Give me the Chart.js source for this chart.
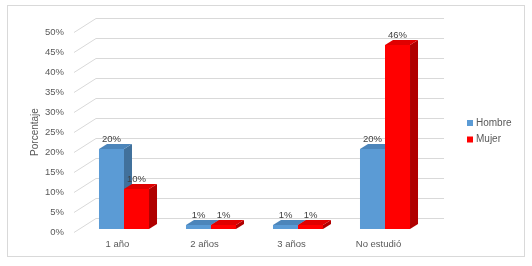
<!DOCTYPE html>
<html>
<head>
<meta charset="utf-8">
<script src="https://cdn.jsdelivr.net/npm/chart.js@4.4.0/dist/chart.umd.min.js"></script>
<style>
  html, body { margin: 0; padding: 0; background: #fff; }
  canvas { display: block; }
</style>
</head>
<body>
<canvas id="chart" width="532" height="266"></canvas>
<script>
const categories = ['1 año', '2 años', '3 años', 'No estudió'];
const hombre = [20, 1, 1, 20];
const mujer = [10, 1, 1, 46];
const yTicks = [0, 5, 10, 15, 20, 25, 30, 35, 40, 45, 50];

const seriesColors = {
  Hombre: { front: '#5B9BD5', top: '#4C85BA', side: '#41719C' },
  Mujer: { front: '#FF0000', top: '#E00000', side: '#B00000' }
};

// wall depth and bar depth (px)
const WALL_DX = 22, WALL_DY = -14;
const BAR_DX = 8, BAR_DY = -5;
const BAR_SHIFT_X = 6.5, BAR_SHIFT_Y = -3;
const FONT = '"Liberation Sans", Arial, sans-serif';

const fakeBars = {
  id: 'fakeBars',
  beforeDatasetsDraw(chart) {
    const ctx = chart.ctx;
    const area = chart.chartArea;
    const y = chart.scales.y;

    // border
    ctx.save();
    ctx.strokeStyle = '#D9D9D9';
    ctx.lineWidth = 1;
    ctx.strokeRect(7.5, 5.5, 517, 251);

    // side wall + back wall gridlines
    yTicks.forEach(v => {
      const py = Math.round(y.getPixelForValue(v)) + 0.5;
      ctx.beginPath();
      ctx.moveTo(area.left, py);
      ctx.lineTo(area.left + WALL_DX, py + WALL_DY);
      ctx.lineTo(area.right + WALL_DX, py + WALL_DY);
      ctx.stroke();
    });
    ctx.restore();

    // bars, category by category
    const metas = [chart.getDatasetMeta(0), chart.getDatasetMeta(1)];
    for (let i = 0; i < categories.length; i++) {
      metas.forEach((meta, di) => {
        const bar = meta.data[i];
        const c = seriesColors[chart.data.datasets[di].label];
        const x0 = bar.x - bar.width / 2 + BAR_SHIFT_X;
        const x1 = bar.x + bar.width / 2 + BAR_SHIFT_X;
        const top = bar.y + BAR_SHIFT_Y;
        const base = bar.base + BAR_SHIFT_Y;

        ctx.save();
        // side
        ctx.fillStyle = c.side;
        ctx.beginPath();
        ctx.moveTo(x1, base);
        ctx.lineTo(x1 + BAR_DX, base + BAR_DY);
        ctx.lineTo(x1 + BAR_DX, top + BAR_DY);
        ctx.lineTo(x1, top);
        ctx.closePath();
        ctx.fill();
        // top
        ctx.fillStyle = c.top;
        ctx.beginPath();
        ctx.moveTo(x0, top);
        ctx.lineTo(x0 + BAR_DX, top + BAR_DY);
        ctx.lineTo(x1 + BAR_DX, top + BAR_DY);
        ctx.lineTo(x1, top);
        ctx.closePath();
        ctx.fill();
        // front
        ctx.fillStyle = c.front;
        ctx.fillRect(x0, top, x1 - x0, base - top);
        ctx.restore();
      });
    }
    return false;
  },
  afterDraw(chart) {
    const ctx = chart.ctx;
    const y = chart.scales.y;
    const x = chart.scales.x;
    ctx.save();

    // y tick labels
    ctx.fillStyle = '#595959';
    ctx.font = '9.5px ' + FONT;
    ctx.textAlign = 'right';
    ctx.textBaseline = 'middle';
    yTicks.forEach(v => {
      ctx.fillText(v + '%', 64, y.getPixelForValue(v));
    });

    // category labels
    ctx.textAlign = 'center';
    categories.forEach((cat, i) => {
      ctx.fillText(cat, x.getPixelForValue(i), 244);
    });

    // axis title
    ctx.save();
    ctx.translate(35, (chart.chartArea.top + chart.chartArea.bottom) / 2);
    ctx.rotate(-Math.PI / 2);
    ctx.font = '10px ' + FONT;
    ctx.fillText('Porcentaje', 0, 0);
    ctx.restore();

    // data labels
    ctx.fillStyle = '#404040';
    ctx.font = '9.5px ' + FONT;
    chart.data.datasets.forEach((ds, di) => {
      chart.getDatasetMeta(di).data.forEach((bar, i) => {
        ctx.fillText(ds.data[i] + '%', bar.x + BAR_SHIFT_X, bar.y + BAR_SHIFT_Y - 10);
      });
    });

    // legend
    ctx.textAlign = 'left';
    ctx.font = '10px ' + FONT;
    ctx.fillStyle = '#595959';
    chart.data.datasets.forEach((ds, di) => {
      const ly = 123 + di * 16.5;
      ctx.fillStyle = seriesColors[ds.label].front;
      ctx.fillRect(467, ly - 3, 6, 6);
      ctx.fillStyle = '#595959';
      ctx.fillText(ds.label, 476, ly);
    });
    ctx.restore();
  }
};

new Chart(document.getElementById('chart'), {
  type: 'bar',
  data: {
    labels: categories,
    datasets: [
      { label: 'Hombre', data: hombre, backgroundColor: seriesColors.Hombre.front },
      { label: 'Mujer', data: mujer, backgroundColor: seriesColors.Mujer.front }
    ]
  },
  options: {
    responsive: false,
    animation: false,
    layout: { padding: { left: 74, right: 110, top: 32, bottom: 34 } },
    datasets: { bar: { categoryPercentage: 0.575, barPercentage: 1 } },
    scales: {
      x: { display: false },
      y: { display: false, min: 0, max: 50 }
    },
    plugins: {
      legend: { display: false },
      tooltip: { enabled: false }
    }
  },
  plugins: [fakeBars]
});
</script>
</body>
</html>
